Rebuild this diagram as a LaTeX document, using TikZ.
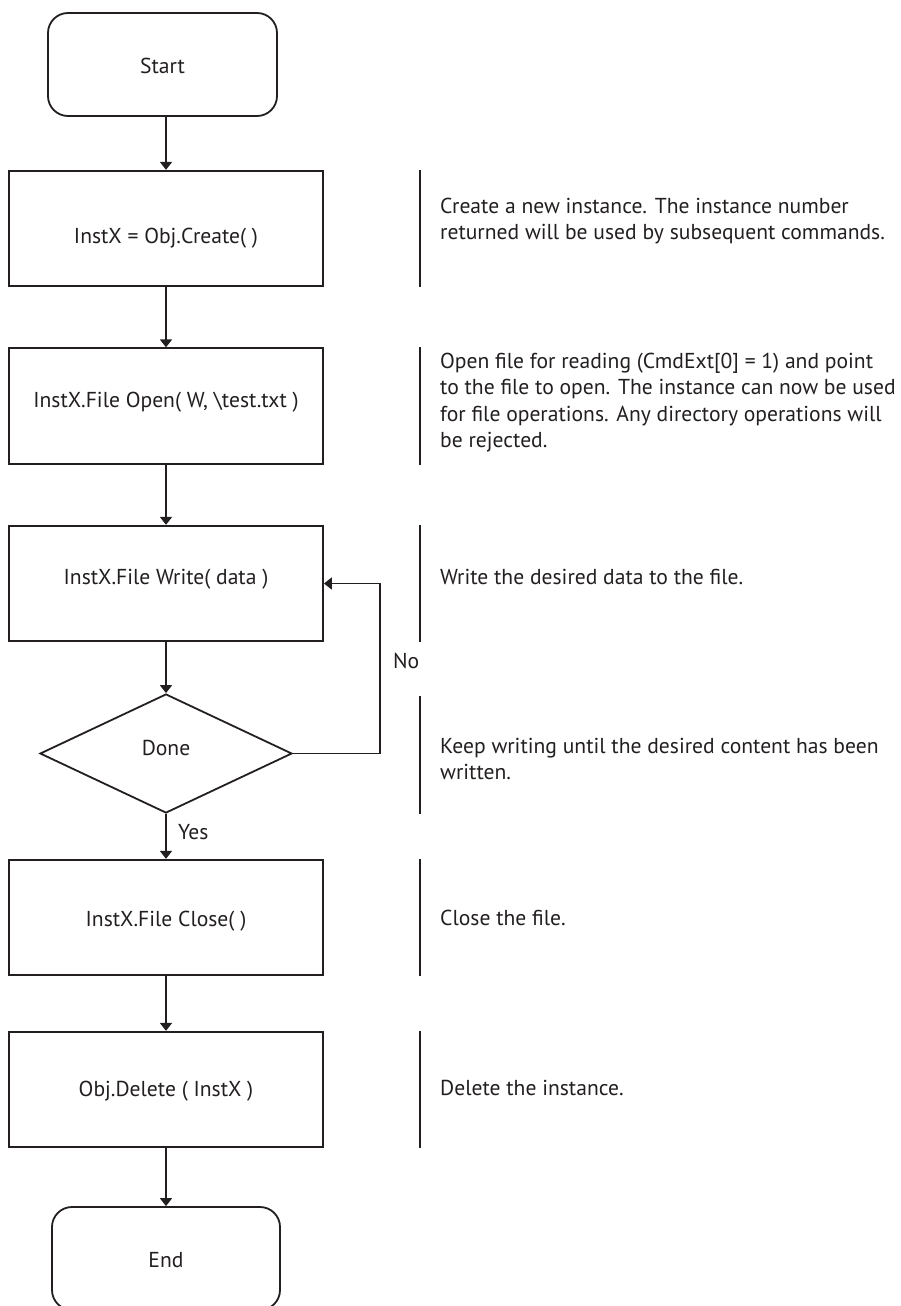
\documentclass[tikz,border=0pt]{standalone}
\usepackage{fontspec}
\setmainfont{PT Sans}
\usetikzlibrary{shapes.geometric,arrows.meta}
\definecolor{ink}{HTML}{231F20}
\begin{document}
\begin{tikzpicture}[x=1pt,y=-1pt,
  every node/.style={text=ink, font=\fontsize{21.6}{26.5}\selectfont},
  stepbox/.style={draw=ink, line width=1.8pt, minimum width=314pt, minimum height=115.5pt, inner sep=0pt, text depth=0pt},
  termbox/.style={draw=ink, line width=1.8pt, rounded corners=20pt, minimum width=229pt, minimum height=103pt, inner sep=0pt, text depth=0pt},
  decision/.style={diamond, draw=ink, line width=1.8pt, minimum width=252pt, minimum height=119pt, inner sep=0pt, text depth=0pt},
  flow/.style={draw=ink, line width=1.8pt, -{Triangle[width=12pt,length=8pt]}},
  note/.style={anchor=base west, align=left, inner sep=0pt},
  rule/.style={draw=ink, line width=1.8pt},
  tag/.style={anchor=base west, inner sep=0pt}
]
\useasboundingbox (0,0) rectangle (900,1306);
\clip (0,0) rectangle (900,1306);

% flow chart boxes (text height sets the baseline inside each box)
\node[termbox, text height=19pt] (start) at (162.5,64.5) {Start};
\node[stepbox, text height=29pt] (b1) at (166,228.5) {InstX = Obj.Create( )};
\node[stepbox, text height=2pt] (b2) at (166,406) {InstX.File Open( W, \textbackslash test.txt )};
\node[stepbox, text height=1pt] (b3) at (166,583.5) {InstX.File Write( data )};
\node[decision, text height=3pt] (dn) at (166,753.5) {Done};
\node[stepbox, text height=17pt] (b4) at (166,917.5) {InstX.File Close( )};
\node[stepbox, text height=13pt] (b5) at (166,1089.5) {Obj.Delete ( InstX )};
\node[termbox, minimum width=228pt, text height=17pt] (end) at (166,1258.5) {End};

% connectors
\coordinate (loop) at (380,583.5);
\draw[flow] (start.south -| b1.north) -- (b1.north);
\draw[flow] (b1.south) -- (b2.north);
\draw[flow] (b2.south) -- (b3.north);
\draw[flow] (b3.south) -- (dn.north);
\draw[flow] (dn.south) -- (b4.north);
\draw[flow] (dn.east) -| (loop) -- (b3.east);
\draw[flow] (b4.south) -- (b5.north);
\draw[flow] (b5.south) -- (end.north);

\node[tag] (no) at (393,668) {No};
\node[tag] (yes) at (178,839) {Yes};

% separator rules beside each step
\coordinate (sep) at (420,0);
\draw[rule] (b1.north -| sep) -- (b1.south -| sep);
\draw[rule] (b2.north -| sep) -- (b2.south -| sep);
\draw[rule] (b3.north -| sep) -- (b3.south -| sep);
\draw[rule] ([yshift=-3pt]dn.north -| sep) -- (dn.south -| sep);
\draw[rule] (b4.north -| sep) -- (b4.south -| sep);
\draw[rule] (b5.north -| sep) -- (b5.south -| sep);

% descriptions (anchored on the baseline of their last line)
\node[note] (n1) at (440,239.5) {Create a new instance. The instance number\\returned will be used by subsequent commands.};
\node[note] (n2) at (440,447.5) {Open file for reading (CmdExt[0] = 1) and point\\to the file to open. The instance can now be used\\for file operations. Any directory operations will\\be rejected.};
\node[note] (n3) at (440,584) {Write the desired data to the file.};
\node[note] (n4) at (440,779.5) {Keep writing until the desired content has been\\written.};
\node[note] (n5) at (440,925) {Close the file.};
\node[note] (n6) at (440,1095) {Delete the instance.};
\end{tikzpicture}
\end{document}
